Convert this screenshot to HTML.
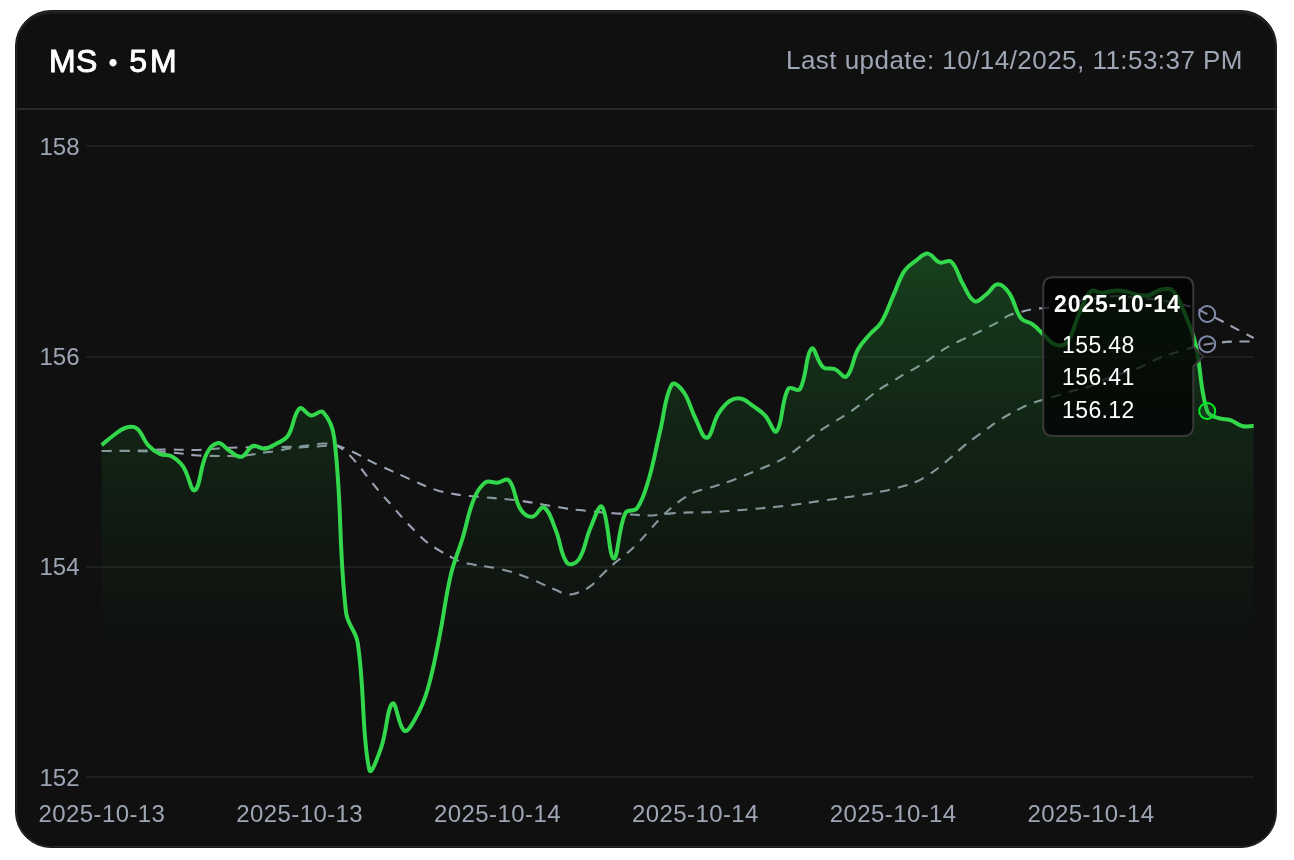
<!DOCTYPE html>
<html><head><meta charset="utf-8"><title>MS 5M</title>
<style>
*{box-sizing:border-box;margin:0;padding:0}
html,body{width:1294px;height:860px;background:#fff;overflow:hidden}
body{position:relative;-webkit-font-smoothing:antialiased;font-family:"Liberation Sans",Arial,sans-serif}
.card{position:absolute;left:15px;top:10px;width:1262px;height:838px;background:#101010;border:1px solid #1b1b1b;border-radius:36px;box-shadow:inset 0 0 0 1px #272727,inset 0 3px 0 #1b1d1b;overflow:hidden}
.hline{position:absolute;left:17px;top:108px;width:1258px;height:2px;background:#2a2a2a}
.dot{display:inline-block;font-size:23px;vertical-align:top;margin:0 0 0 11.5px;width:19px;line-height:44px}
.t5{letter-spacing:3px;margin-left:1.2px}
.title,.upd,svg{will-change:transform}
.title{position:absolute;left:49.2px;top:40.5px;font-size:32px;font-weight:normal;-webkit-text-stroke:0.9px #fff;color:#fff;white-space:nowrap;line-height:40px;letter-spacing:0.3px}
.upd{position:absolute;right:51px;top:42px;font-size:26px;color:#9ea5b4;white-space:nowrap;line-height:36px;letter-spacing:0.46px}
svg{position:absolute;left:0;top:0}
</style></head><body>
<div class="card"></div>
<div class="hline"></div>
<div class="title">MS<span class="dot">•</span><span class="t5">5M</span></div>
<div class="upd">Last update: 10/14/2025, 11:53:37 PM</div>
<svg width="1294" height="860" viewBox="0 0 1294 860">
<defs>
<linearGradient id="gf" x1="0" y1="146" x2="0" y2="777" gradientUnits="userSpaceOnUse"><stop offset="0.00" stop-color="rgb(50,215,75)" stop-opacity="0.3700"/><stop offset="0.05" stop-color="rgb(48,204,71)" stop-opacity="0.3515"/><stop offset="0.10" stop-color="rgb(45,194,68)" stop-opacity="0.3330"/><stop offset="0.15" stop-color="rgb(42,183,64)" stop-opacity="0.3145"/><stop offset="0.20" stop-color="rgb(40,172,60)" stop-opacity="0.2960"/><stop offset="0.25" stop-color="rgb(38,161,56)" stop-opacity="0.2775"/><stop offset="0.30" stop-color="rgb(35,150,52)" stop-opacity="0.2590"/><stop offset="0.35" stop-color="rgb(32,140,49)" stop-opacity="0.2405"/><stop offset="0.40" stop-color="rgb(30,129,45)" stop-opacity="0.2220"/><stop offset="0.45" stop-color="rgb(28,118,41)" stop-opacity="0.2035"/><stop offset="0.50" stop-color="rgb(25,108,38)" stop-opacity="0.1850"/><stop offset="0.55" stop-color="rgb(22,97,34)" stop-opacity="0.1665"/><stop offset="0.60" stop-color="rgb(20,86,30)" stop-opacity="0.1480"/><stop offset="0.65" stop-color="rgb(18,75,26)" stop-opacity="0.1295"/><stop offset="0.70" stop-color="rgb(15,65,23)" stop-opacity="0.1110"/><stop offset="0.75" stop-color="rgb(12,54,19)" stop-opacity="0.0925"/><stop offset="0.80" stop-color="rgb(10,43,15)" stop-opacity="0.0740"/><stop offset="0.85" stop-color="rgb(8,32,11)" stop-opacity="0.0555"/><stop offset="0.90" stop-color="rgb(5,21,7)" stop-opacity="0.0370"/><stop offset="0.95" stop-color="rgb(3,11,4)" stop-opacity="0.0185"/><stop offset="1.00" stop-color="rgb(0,0,0)" stop-opacity="0.0000"/></linearGradient>
</defs>
<rect x="86" y="145" width="1168" height="2" fill="#1e201e"/><rect x="86" y="356" width="1168" height="2" fill="#1e201e"/><rect x="86" y="566" width="1168" height="2" fill="#1e201e"/><rect x="86" y="776" width="1168" height="2" fill="#1e201e"/>
<g font-family="Liberation Sans, Arial, sans-serif" font-size="24" fill="#9ea5b4"><text x="79.5" y="155.3" text-anchor="end">158</text><text x="79.5" y="365.3" text-anchor="end">156</text><text x="79.5" y="575.3" text-anchor="end">154</text><text x="79.5" y="786.3" text-anchor="end">152</text><text x="101.9" y="822.2" text-anchor="middle" letter-spacing="0.4">2025-10-13</text><text x="299.7" y="822.2" text-anchor="middle" letter-spacing="0.4">2025-10-13</text><text x="497.5" y="822.2" text-anchor="middle" letter-spacing="0.4">2025-10-14</text><text x="695.4" y="822.2" text-anchor="middle" letter-spacing="0.4">2025-10-14</text><text x="893.2" y="822.2" text-anchor="middle" letter-spacing="0.4">2025-10-14</text><text x="1091.0" y="822.2" text-anchor="middle" letter-spacing="0.4">2025-10-14</text></g>
<path d="M101.70 451.00 C106.35 451.00 108.68 451.00 113.34 451.00 C117.99 451.00 120.32 450.97 124.97 451.00 C129.63 451.03 131.96 451.07 136.61 451.17 C141.26 451.26 143.59 451.39 148.25 451.46 C152.90 451.52 155.24 451.28 159.88 451.50 C164.55 451.72 166.87 452.11 171.52 452.57 C176.18 453.02 178.51 453.24 183.15 453.78 C187.82 454.32 190.12 454.86 194.79 455.26 C199.43 455.65 201.77 455.60 206.43 455.75 C211.08 455.90 213.41 455.95 218.06 456.00 C222.72 456.05 225.05 455.99 229.70 456.00 C234.35 456.01 236.70 456.36 241.34 456.04 C246.01 455.72 248.33 455.12 252.97 454.41 C257.64 453.69 259.94 453.11 264.61 452.45 C269.25 451.80 271.62 451.86 276.25 451.12 C280.93 450.36 283.19 449.43 287.88 448.71 C292.50 448.00 294.86 447.93 299.52 447.55 C304.17 447.16 306.50 447.09 311.15 446.79 C315.81 446.49 318.14 446.39 322.79 446.03 C327.45 445.67 330.13 443.87 334.43 444.99 C339.44 446.30 341.90 448.64 346.06 452.09 C351.21 456.36 353.32 459.19 357.70 464.31 C362.63 470.06 364.60 473.36 369.34 479.28 C373.91 485.00 376.22 487.84 380.97 493.40 C385.53 498.73 387.96 501.27 392.61 506.52 C397.27 511.79 399.48 514.54 404.25 519.72 C408.79 524.65 411.12 527.07 415.88 531.79 C420.43 536.29 422.53 538.79 427.52 542.76 C431.84 546.19 434.43 547.39 439.15 550.29 C443.74 553.10 446.01 554.57 450.79 557.02 C455.32 559.35 457.61 560.67 462.43 562.25 C466.92 563.72 469.39 563.79 474.06 564.66 C478.70 565.52 481.04 565.84 485.70 566.58 C490.35 567.32 492.72 567.43 497.34 568.36 C502.03 569.30 504.36 569.96 508.97 571.25 C513.67 572.57 516.02 573.26 520.61 574.89 C525.33 576.57 527.63 577.58 532.25 579.52 C536.94 581.50 539.22 582.64 543.88 584.70 C548.53 586.75 550.83 587.86 555.52 589.82 C560.14 591.75 562.37 593.90 567.15 594.42 C571.68 594.92 574.39 593.91 578.79 592.35 C583.70 590.62 586.27 589.33 590.43 586.18 C595.58 582.27 597.34 579.23 602.06 574.71 C606.65 570.31 608.88 568.02 613.70 563.89 C618.19 560.03 620.82 558.56 625.34 554.73 C630.13 550.65 632.53 548.58 636.97 544.12 C641.84 539.24 643.98 536.50 648.61 531.37 C653.29 526.18 655.40 523.36 660.25 518.33 C664.71 513.68 666.99 511.36 671.88 507.17 C676.30 503.38 678.66 501.58 683.52 498.38 C687.97 495.45 690.27 493.91 695.15 491.85 C699.58 490.00 702.15 489.96 706.79 488.60 C711.46 487.23 713.79 486.51 718.43 485.03 C723.10 483.53 725.45 482.83 730.06 481.17 C734.76 479.47 737.06 478.47 741.70 476.61 C746.37 474.74 748.69 473.78 753.34 471.86 C758.00 469.94 760.32 468.96 764.97 467.00 C769.63 465.05 772.10 464.36 776.61 462.10 C781.41 459.69 783.76 458.30 788.25 455.34 C793.07 452.15 795.32 450.29 799.88 446.72 C804.63 442.99 806.74 440.79 811.52 437.09 C816.05 433.58 818.38 431.88 823.15 428.70 C827.69 425.68 830.15 424.46 834.79 421.59 C839.46 418.69 841.85 417.31 846.43 414.27 C851.16 411.13 853.53 409.56 858.06 406.14 C862.84 402.53 864.96 400.37 869.70 396.71 C874.27 393.17 876.54 391.36 881.34 388.14 C885.85 385.12 888.34 383.95 892.97 381.10 C897.65 378.22 899.86 376.57 904.61 373.82 C909.17 371.17 911.68 370.23 916.25 367.59 C920.98 364.85 923.33 363.41 927.88 360.38 C932.64 357.20 934.74 355.19 939.52 352.04 C944.05 349.07 946.39 347.67 951.15 345.07 C955.70 342.59 958.10 341.57 962.79 339.35 C967.41 337.17 969.82 336.28 974.43 334.08 C979.13 331.83 981.41 330.56 986.06 328.21 C990.72 325.86 993.15 324.87 997.70 322.32 C1002.46 319.65 1004.39 317.36 1009.34 315.16 C1013.70 313.21 1016.30 313.17 1020.97 311.95 C1025.61 310.74 1027.90 309.88 1032.61 309.09 C1037.20 308.32 1039.60 308.53 1044.25 308.07 C1048.91 307.61 1051.28 307.58 1055.88 306.77 C1060.59 305.95 1062.86 305.10 1067.52 303.99 C1072.17 302.87 1074.47 302.14 1079.15 301.20 C1083.77 300.27 1086.13 300.06 1090.79 299.31 C1095.44 298.57 1097.76 298.14 1102.43 297.50 C1107.07 296.85 1109.39 296.27 1114.06 296.09 C1118.70 295.91 1121.05 296.36 1125.70 296.60 C1130.36 296.83 1132.69 296.87 1137.34 297.28 C1142.00 297.70 1144.32 298.11 1148.97 298.68 C1153.63 299.25 1155.98 299.36 1160.61 300.12 C1165.29 300.89 1167.59 301.54 1172.25 302.50 C1176.90 303.47 1179.26 303.82 1183.88 304.94 C1188.57 306.08 1191.04 306.40 1195.52 308.14 C1200.35 310.02 1202.47 311.72 1207.15 314.00 C1211.78 316.25 1214.20 317.14 1218.79 319.45 C1223.51 321.83 1225.76 323.24 1230.43 325.73 C1235.07 328.22 1237.40 329.44 1242.06 331.89 C1246.71 334.34 1249.05 335.56 1253.70 338.00" fill="none" stroke="#9aa2b4" stroke-width="2.1" stroke-dasharray="10 8"/>
<path d="M101.70 451.00 C106.35 450.95 108.68 450.93 113.34 450.88 C117.99 450.83 120.32 450.81 124.97 450.76 C129.63 450.71 131.95 450.69 136.61 450.64 C141.26 450.59 143.60 450.74 148.25 450.52 C152.91 450.29 155.22 449.69 159.88 449.51 C164.53 449.33 166.86 449.56 171.52 449.62 C176.17 449.67 178.50 449.70 183.15 449.79 C187.81 449.87 190.14 450.14 194.79 450.06 C199.45 449.97 201.77 449.66 206.43 449.35 C211.08 449.04 213.41 448.80 218.06 448.49 C222.72 448.18 225.04 448.01 229.70 447.80 C234.35 447.58 236.68 447.52 241.34 447.41 C245.99 447.31 248.32 447.26 252.97 447.26 C257.63 447.26 259.95 447.42 264.61 447.42 C269.26 447.43 271.59 447.40 276.25 447.29 C280.90 447.19 283.23 447.06 287.88 446.90 C292.54 446.75 294.88 446.91 299.52 446.52 C304.19 446.12 306.50 445.54 311.15 444.93 C315.81 444.32 318.13 443.54 322.79 443.48 C327.44 443.41 329.91 443.54 334.43 444.59 C339.22 445.71 341.48 446.99 346.06 448.89 C350.79 450.85 353.13 451.93 357.70 454.24 C362.44 456.62 364.61 458.20 369.34 460.62 C373.92 462.97 376.30 463.98 380.97 466.14 C385.60 468.28 387.96 469.27 392.61 471.37 C397.27 473.46 399.59 474.52 404.25 476.62 C408.90 478.72 411.21 479.80 415.88 481.85 C420.52 483.87 422.81 484.96 427.52 486.80 C432.12 488.59 434.42 489.55 439.15 490.92 C443.73 492.24 446.11 492.64 450.79 493.53 C455.42 494.41 457.75 494.78 462.43 495.35 C467.06 495.92 469.41 495.98 474.06 496.39 C478.72 496.81 481.05 497.01 485.70 497.41 C490.35 497.82 492.68 498.02 497.34 498.42 C501.99 498.82 504.33 498.95 508.97 499.43 C513.63 499.91 515.97 500.16 520.61 500.81 C525.28 501.46 527.59 501.91 532.25 502.68 C536.90 503.46 539.23 503.88 543.88 504.67 C548.54 505.47 550.86 505.88 555.52 506.67 C560.17 507.46 562.49 507.93 567.15 508.61 C571.80 509.29 574.13 509.54 578.79 510.07 C583.44 510.60 585.77 510.80 590.43 511.26 C595.08 511.72 597.41 511.98 602.06 512.39 C606.71 512.80 609.04 512.99 613.70 513.32 C618.35 513.64 620.68 513.69 625.34 514.01 C629.99 514.33 632.31 514.60 636.97 514.91 C641.62 515.22 643.96 515.62 648.61 515.55 C653.27 515.49 655.60 515.05 660.25 514.61 C664.91 514.17 667.22 513.73 671.88 513.34 C676.53 512.96 678.86 512.87 683.52 512.67 C688.17 512.47 690.50 512.44 695.15 512.36 C699.81 512.28 702.14 512.40 706.79 512.27 C711.45 512.15 713.78 512.01 718.43 511.75 C723.08 511.49 725.41 511.33 730.06 510.97 C734.72 510.60 737.04 510.33 741.70 509.93 C746.35 509.52 748.68 509.36 753.34 508.96 C757.99 508.55 760.32 508.34 764.97 507.90 C769.63 507.45 771.96 507.22 776.61 506.73 C781.27 506.24 783.60 506.01 788.25 505.46 C792.91 504.91 795.24 504.63 799.88 503.98 C804.54 503.33 806.86 502.88 811.52 502.20 C816.17 501.51 818.50 501.20 823.15 500.54 C827.81 499.89 830.14 499.58 834.79 498.93 C839.45 498.28 841.78 497.98 846.43 497.31 C851.08 496.65 853.41 496.31 858.06 495.59 C862.72 494.88 865.06 494.55 869.70 493.74 C874.37 492.93 876.70 492.49 881.34 491.52 C886.01 490.54 888.34 490.01 892.97 488.87 C897.65 487.71 900.00 487.17 904.61 485.78 C909.31 484.35 911.78 483.81 916.25 481.81 C921.08 479.64 923.40 478.20 927.88 475.34 C932.71 472.27 935.00 470.51 939.52 467.00 C944.31 463.27 946.56 461.21 951.15 457.24 C955.87 453.17 958.00 450.88 962.79 446.91 C967.31 443.15 969.71 441.44 974.43 437.93 C979.02 434.50 981.40 432.91 986.06 429.57 C990.71 426.24 992.93 424.41 997.70 421.27 C1002.24 418.28 1004.61 416.92 1009.34 414.24 C1013.92 411.65 1016.23 410.37 1020.97 408.08 C1025.54 405.89 1027.86 404.82 1032.61 403.05 C1037.17 401.34 1039.58 400.82 1044.25 399.39 C1048.89 397.98 1051.24 397.37 1055.88 395.95 C1060.55 394.54 1062.83 393.66 1067.52 392.31 C1072.14 390.99 1074.51 390.53 1079.15 389.29 C1083.82 388.05 1086.31 387.83 1090.79 386.12 C1095.61 384.27 1097.69 382.49 1102.43 380.39 C1106.99 378.38 1109.34 377.48 1114.06 375.84 C1118.65 374.26 1121.06 373.79 1125.70 372.34 C1130.37 370.88 1132.80 370.38 1137.34 368.57 C1142.11 366.65 1144.32 365.24 1148.97 363.02 C1153.63 360.80 1155.85 359.43 1160.61 357.47 C1165.16 355.61 1167.56 354.96 1172.25 353.46 C1176.87 351.97 1179.21 351.33 1183.88 350.00 C1188.52 348.67 1190.84 347.99 1195.52 346.83 C1200.15 345.67 1202.46 345.03 1207.15 344.20 C1211.77 343.38 1214.13 343.22 1218.79 342.70 C1223.44 342.19 1225.76 341.89 1230.43 341.65 C1235.07 341.41 1237.41 341.54 1242.06 341.49 C1246.72 341.44 1249.05 341.44 1253.70 341.40" fill="none" stroke="#9aa2b4" stroke-width="2.1" stroke-dasharray="10 8"/>
<path d="M101.70 445.10 C106.35 441.25 108.48 439.06 113.34 435.49 C117.79 432.21 119.91 429.52 124.97 427.97 C129.22 426.66 133.25 425.82 136.61 428.32 C142.56 432.76 142.77 439.32 148.25 445.32 C152.08 449.52 154.78 451.42 159.88 453.84 C164.09 455.84 167.49 454.12 171.52 456.36 C176.80 459.28 179.69 461.67 183.15 466.73 C189.00 475.25 190.98 492.36 194.79 490.30 C200.29 487.33 199.89 467.42 206.43 454.15 C209.19 448.53 213.10 443.74 218.06 443.07 C222.41 442.48 224.86 448.15 229.70 451.00 C234.17 453.63 237.14 457.66 241.34 456.76 C246.45 455.66 247.67 447.83 252.97 446.00 C256.97 444.61 260.09 449.17 264.61 448.72 C269.40 448.24 271.82 446.10 276.25 443.67 C281.13 440.98 284.90 440.41 287.88 435.92 C294.21 426.37 293.12 414.20 299.52 408.56 C302.43 406.00 306.26 414.71 311.15 415.41 C315.56 416.05 320.08 409.14 322.79 411.90 C329.39 418.64 333.07 427.47 334.43 439.16 C342.38 507.70 338.22 543.86 346.06 612.49 C347.53 625.32 355.81 630.05 357.70 642.83 C365.12 692.97 361.53 734.46 369.34 769.80 C370.84 776.60 377.75 757.39 380.97 748.19 C387.05 730.84 386.94 707.66 392.61 703.43 C396.25 700.70 398.40 727.24 404.25 730.78 C407.71 732.88 412.45 723.60 415.88 717.54 C421.75 707.18 424.13 701.27 427.52 689.75 C433.44 669.59 434.97 659.00 439.15 638.35 C444.28 613.04 444.93 599.94 450.79 574.84 C454.24 560.05 457.97 553.16 462.43 538.61 C467.28 522.74 467.81 513.95 474.06 498.79 C477.12 491.40 479.79 486.32 485.70 482.23 C489.10 479.87 492.73 483.05 497.34 482.67 C502.04 482.29 506.41 477.39 508.97 480.32 C515.72 488.06 514.15 499.23 520.61 509.35 C523.46 513.82 527.78 517.17 532.25 516.79 C537.09 516.38 540.39 505.48 543.88 507.38 C549.70 510.55 551.68 520.27 555.52 529.46 C560.99 542.52 560.22 554.05 567.15 563.00 C569.53 566.06 576.32 563.22 578.79 559.50 C585.63 549.21 585.01 540.23 590.43 527.96 C594.32 519.16 599.15 503.02 602.06 506.84 C608.46 515.23 608.76 557.18 613.70 558.50 C618.07 559.67 617.99 528.87 625.34 513.06 C627.30 508.83 634.29 512.25 636.97 508.40 C643.60 498.92 645.08 491.56 648.61 479.74 C654.39 460.37 655.44 450.11 660.25 430.42 C664.75 411.98 664.67 396.36 671.88 384.41 C673.98 380.93 680.47 387.49 683.52 391.86 C689.78 400.83 690.03 407.64 695.15 417.76 C699.34 426.02 702.47 438.56 706.79 437.80 C711.78 436.93 712.78 422.67 718.43 413.69 C722.09 407.87 724.52 404.34 730.06 400.80 C733.83 398.39 737.41 397.80 741.70 398.80 C746.72 399.97 748.83 403.05 753.34 406.24 C758.14 409.64 760.99 411.02 764.97 415.29 C770.30 421.00 773.73 434.49 776.61 431.20 C783.04 423.84 780.88 401.94 788.25 388.68 C790.19 385.17 797.87 392.73 799.88 389.27 C807.18 376.70 805.39 354.43 811.52 348.60 C814.69 345.58 817.10 361.83 823.15 367.16 C826.41 370.04 830.50 367.39 834.79 369.11 C839.81 371.12 843.48 379.03 846.43 376.50 C852.79 371.05 852.35 359.47 858.06 349.17 C861.66 342.69 864.82 340.21 869.70 334.55 C874.13 329.41 877.84 327.91 881.34 322.18 C887.15 312.65 888.32 306.72 892.97 296.42 C897.62 286.13 898.60 279.99 904.61 270.69 C907.91 265.58 911.26 264.06 916.25 260.40 C920.57 257.24 923.42 253.24 927.88 253.63 C932.73 254.07 934.34 260.69 939.52 262.47 C943.65 263.89 948.20 258.92 951.15 261.63 C957.51 267.47 957.71 275.21 962.79 283.85 C967.02 291.04 968.75 298.58 974.43 301.20 C978.06 302.88 981.75 297.72 986.06 294.60 C991.06 290.99 992.93 284.60 997.70 284.35 C1002.24 284.12 1006.08 288.67 1009.34 293.40 C1015.39 302.20 1014.69 309.82 1020.97 318.19 C1024.00 322.22 1028.38 321.32 1032.61 324.40 C1037.69 328.10 1039.49 330.96 1044.25 335.15 C1048.80 339.15 1050.71 343.47 1055.88 344.88 C1060.02 346.01 1064.85 345.08 1067.52 341.50 C1074.16 332.60 1074.09 324.63 1079.15 313.70 C1083.40 304.55 1084.44 297.01 1090.79 291.31 C1093.75 288.66 1097.79 292.93 1102.43 292.81 C1107.10 292.69 1109.38 290.99 1114.06 290.71 C1118.68 290.42 1121.13 290.60 1125.70 291.38 C1130.44 292.20 1132.59 293.92 1137.34 294.70 C1141.90 295.46 1144.55 296.16 1148.97 295.21 C1153.86 294.17 1155.72 290.79 1160.61 289.74 C1165.03 288.78 1169.21 287.38 1172.25 290.18 C1178.52 295.99 1180.08 302.45 1183.88 311.27 C1189.39 324.05 1192.35 330.63 1195.52 344.20 C1201.66 370.53 1199.41 386.37 1207.15 411.00 C1208.72 415.97 1213.79 416.25 1218.79 418.21 C1223.10 419.90 1226.00 418.65 1230.43 420.13 C1235.31 421.75 1237.15 424.69 1242.06 425.95 C1246.46 427.07 1249.05 426.04 1253.70 426.10 L1253.70 777 L101.70 777 Z" fill="url(#gf)"/>
<path d="M101.70 445.10 C106.35 441.25 108.48 439.06 113.34 435.49 C117.79 432.21 119.91 429.52 124.97 427.97 C129.22 426.66 133.25 425.82 136.61 428.32 C142.56 432.76 142.77 439.32 148.25 445.32 C152.08 449.52 154.78 451.42 159.88 453.84 C164.09 455.84 167.49 454.12 171.52 456.36 C176.80 459.28 179.69 461.67 183.15 466.73 C189.00 475.25 190.98 492.36 194.79 490.30 C200.29 487.33 199.89 467.42 206.43 454.15 C209.19 448.53 213.10 443.74 218.06 443.07 C222.41 442.48 224.86 448.15 229.70 451.00 C234.17 453.63 237.14 457.66 241.34 456.76 C246.45 455.66 247.67 447.83 252.97 446.00 C256.97 444.61 260.09 449.17 264.61 448.72 C269.40 448.24 271.82 446.10 276.25 443.67 C281.13 440.98 284.90 440.41 287.88 435.92 C294.21 426.37 293.12 414.20 299.52 408.56 C302.43 406.00 306.26 414.71 311.15 415.41 C315.56 416.05 320.08 409.14 322.79 411.90 C329.39 418.64 333.07 427.47 334.43 439.16 C342.38 507.70 338.22 543.86 346.06 612.49 C347.53 625.32 355.81 630.05 357.70 642.83 C365.12 692.97 361.53 734.46 369.34 769.80 C370.84 776.60 377.75 757.39 380.97 748.19 C387.05 730.84 386.94 707.66 392.61 703.43 C396.25 700.70 398.40 727.24 404.25 730.78 C407.71 732.88 412.45 723.60 415.88 717.54 C421.75 707.18 424.13 701.27 427.52 689.75 C433.44 669.59 434.97 659.00 439.15 638.35 C444.28 613.04 444.93 599.94 450.79 574.84 C454.24 560.05 457.97 553.16 462.43 538.61 C467.28 522.74 467.81 513.95 474.06 498.79 C477.12 491.40 479.79 486.32 485.70 482.23 C489.10 479.87 492.73 483.05 497.34 482.67 C502.04 482.29 506.41 477.39 508.97 480.32 C515.72 488.06 514.15 499.23 520.61 509.35 C523.46 513.82 527.78 517.17 532.25 516.79 C537.09 516.38 540.39 505.48 543.88 507.38 C549.70 510.55 551.68 520.27 555.52 529.46 C560.99 542.52 560.22 554.05 567.15 563.00 C569.53 566.06 576.32 563.22 578.79 559.50 C585.63 549.21 585.01 540.23 590.43 527.96 C594.32 519.16 599.15 503.02 602.06 506.84 C608.46 515.23 608.76 557.18 613.70 558.50 C618.07 559.67 617.99 528.87 625.34 513.06 C627.30 508.83 634.29 512.25 636.97 508.40 C643.60 498.92 645.08 491.56 648.61 479.74 C654.39 460.37 655.44 450.11 660.25 430.42 C664.75 411.98 664.67 396.36 671.88 384.41 C673.98 380.93 680.47 387.49 683.52 391.86 C689.78 400.83 690.03 407.64 695.15 417.76 C699.34 426.02 702.47 438.56 706.79 437.80 C711.78 436.93 712.78 422.67 718.43 413.69 C722.09 407.87 724.52 404.34 730.06 400.80 C733.83 398.39 737.41 397.80 741.70 398.80 C746.72 399.97 748.83 403.05 753.34 406.24 C758.14 409.64 760.99 411.02 764.97 415.29 C770.30 421.00 773.73 434.49 776.61 431.20 C783.04 423.84 780.88 401.94 788.25 388.68 C790.19 385.17 797.87 392.73 799.88 389.27 C807.18 376.70 805.39 354.43 811.52 348.60 C814.69 345.58 817.10 361.83 823.15 367.16 C826.41 370.04 830.50 367.39 834.79 369.11 C839.81 371.12 843.48 379.03 846.43 376.50 C852.79 371.05 852.35 359.47 858.06 349.17 C861.66 342.69 864.82 340.21 869.70 334.55 C874.13 329.41 877.84 327.91 881.34 322.18 C887.15 312.65 888.32 306.72 892.97 296.42 C897.62 286.13 898.60 279.99 904.61 270.69 C907.91 265.58 911.26 264.06 916.25 260.40 C920.57 257.24 923.42 253.24 927.88 253.63 C932.73 254.07 934.34 260.69 939.52 262.47 C943.65 263.89 948.20 258.92 951.15 261.63 C957.51 267.47 957.71 275.21 962.79 283.85 C967.02 291.04 968.75 298.58 974.43 301.20 C978.06 302.88 981.75 297.72 986.06 294.60 C991.06 290.99 992.93 284.60 997.70 284.35 C1002.24 284.12 1006.08 288.67 1009.34 293.40 C1015.39 302.20 1014.69 309.82 1020.97 318.19 C1024.00 322.22 1028.38 321.32 1032.61 324.40 C1037.69 328.10 1039.49 330.96 1044.25 335.15 C1048.80 339.15 1050.71 343.47 1055.88 344.88 C1060.02 346.01 1064.85 345.08 1067.52 341.50 C1074.16 332.60 1074.09 324.63 1079.15 313.70 C1083.40 304.55 1084.44 297.01 1090.79 291.31 C1093.75 288.66 1097.79 292.93 1102.43 292.81 C1107.10 292.69 1109.38 290.99 1114.06 290.71 C1118.68 290.42 1121.13 290.60 1125.70 291.38 C1130.44 292.20 1132.59 293.92 1137.34 294.70 C1141.90 295.46 1144.55 296.16 1148.97 295.21 C1153.86 294.17 1155.72 290.79 1160.61 289.74 C1165.03 288.78 1169.21 287.38 1172.25 290.18 C1178.52 295.99 1180.08 302.45 1183.88 311.27 C1189.39 324.05 1192.35 330.63 1195.52 344.20 C1201.66 370.53 1199.41 386.37 1207.15 411.00 C1208.72 415.97 1213.79 416.25 1218.79 418.21 C1223.10 419.90 1226.00 418.65 1230.43 420.13 C1235.31 421.75 1237.15 424.69 1242.06 425.95 C1246.46 427.07 1249.05 426.04 1253.70 426.10" fill="none" stroke="#32d74b" stroke-width="4" stroke-linejoin="round"/>
<circle cx="1207.2" cy="314.0" r="8" fill="rgba(0,0,0,0.15)" stroke="#7f8bab" stroke-width="2"/>
<circle cx="1207.2" cy="344.2" r="8" fill="rgba(0,0,0,0.15)" stroke="#7f8bab" stroke-width="2"/>
<circle cx="1207.2" cy="411.0" r="8" fill="url(#gf)" stroke="#00ee24" stroke-width="2"/>
</svg>
<svg width="1294" height="860" style="position:absolute;left:0;top:0">
<path d="M1053.2 277.2 H1183.3 Q1193.3 277.2 1193.3 287.2 V346.5 L1203.3 356.5 L1193.3 366.5 V426 Q1193.3 436 1183.3 436 H1053.2 Q1043.2 436 1043.2 426 V287.2 Q1043.2 277.2 1053.2 277.2 Z" fill="rgba(0,0,0,0.7)" stroke="#383838" stroke-width="2"/>
<g font-family="Liberation Sans, Arial, sans-serif" fill="#fff">
<text x="1054" y="311.8" font-size="23" font-weight="bold" letter-spacing="0.9">2025-10-14</text>
<text x="1062" y="352.9" font-size="23" letter-spacing="0.4">155.48</text>
<text x="1062" y="384.9" font-size="23" letter-spacing="0.4">156.41</text>
<text x="1062" y="417.8" font-size="23" letter-spacing="0.4">156.12</text>
</g></svg>
</body></html>
